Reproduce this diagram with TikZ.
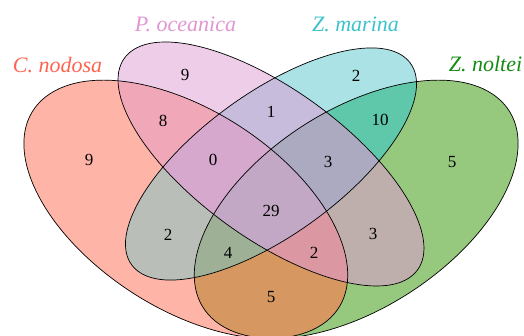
\documentclass[tikz,border=0pt]{standalone}
\usepackage{fontspec}
\setmainfont{Liberation Serif}
\definecolor{cA}{RGB}{255,180,168}
\definecolor{cB}{RGB}{237,205,232}
\definecolor{cC}{RGB}{170,226,230}
\definecolor{cD}{RGB}{150,200,126}
\definecolor{cAB}{RGB}{240,168,185}
\definecolor{cAC}{RGB}{185,190,185}
\definecolor{cAD}{RGB}{214,152,96}
\definecolor{cBC}{RGB}{200,188,220}
\definecolor{cBD}{RGB}{190,175,172}
\definecolor{cCD}{RGB}{95,200,170}
\definecolor{cABC}{RGB}{215,168,205}
\definecolor{cABD}{RGB}{220,152,162}
\definecolor{cACD}{RGB}{158,176,150}
\definecolor{cBCD}{RGB}{172,170,192}
\definecolor{cABCD}{RGB}{195,168,198}
\definecolor{labA}{RGB}{255,100,80}
\definecolor{labB}{RGB}{225,150,210}
\definecolor{labC}{RGB}{60,195,205}
\definecolor{labD}{RGB}{20,140,20}
\newcommand\eA{[shift={(0.35,0.47)},rotate=-45] (0,0) ellipse [x radius=0.35,y radius=0.2]}
\newcommand\eB{[shift={(0.5,0.57)},rotate=-45] (0,0) ellipse [x radius=0.35,y radius=0.15]}
\newcommand\eC{[shift={(0.5,0.57)},rotate=45] (0,0) ellipse [x radius=0.333,y radius=0.1427]}
\newcommand\eD{[shift={(0.65,0.47)},rotate=45] (0,0) ellipse [x radius=0.35,y radius=0.2]}
\tikzset{
  num/.style={font=\fontsize{17}{20}\selectfont, inner sep=0pt, text=black},
  setlab/.style={font=\fontsize{22}{26}\selectfont\itshape, inner sep=0pt, anchor=base},
  outline/.style={draw=black, line width=0.7pt},
}
\begin{document}
\begin{tikzpicture}[x=1pt,y=1pt]
\useasboundingbox (0,0) rectangle (524,335);
\clip (0,0) rectangle (524,335);
\fill[white] (0,0) rectangle (524,335);
\begin{scope}[x=100pt,y=100pt,shift={(-13pt,-87.2pt)},xscale=5.68,yscale=4.53]
  % single sets
  \fill[cA] \eA;
  \fill[cD] \eD;
  \fill[cB] \eB;
  \fill[cC] \eC;
  % pairs
  \begin{scope}\clip \eA; \fill[cAB] \eB; \end{scope}
  \begin{scope}\clip \eA; \fill[cAC] \eC; \end{scope}
  \begin{scope}\clip \eA; \fill[cAD] \eD; \end{scope}
  \begin{scope}\clip \eB; \fill[cBC] \eC; \end{scope}
  \begin{scope}\clip \eB; \fill[cBD] \eD; \end{scope}
  \begin{scope}\clip \eC; \fill[cCD] \eD; \end{scope}
  % triples
  \begin{scope}\clip \eA; \clip \eB; \fill[cABC] \eC; \end{scope}
  \begin{scope}\clip \eA; \clip \eB; \fill[cABD] \eD; \end{scope}
  \begin{scope}\clip \eA; \clip \eC; \fill[cACD] \eD; \end{scope}
  \begin{scope}\clip \eB; \clip \eC; \fill[cBCD] \eD; \end{scope}
  % all four
  \begin{scope}\clip \eA; \clip \eB; \clip \eC; \fill[cABCD] \eD; \end{scope}
  % outlines
  \draw[outline] \eA;
  \draw[outline] \eB;
  \draw[outline] \eC;
  \draw[outline] \eD;
\end{scope}
% set labels
\node[setlab, text=labA] (lA) at (57.5,262) {C. nodosa};
\node[setlab, text=labB] (lB) at (185.5,303) {P. oceanica};
\node[setlab, text=labC] (lC) at (355.5,303) {Z. marina};
\node[setlab, text=labD] (lD) at (485.5,263) {Z. noltei};
% counts
\node[num] (nA) at (89,175) {9};
\node[num] (nB) at (185,260) {9};
\node[num] (nC) at (356,259) {2};
\node[num] (nD) at (452,173) {5};
\node[num] (nAB) at (163,214) {8};
\node[num] (nBC) at (271,223) {1};
\node[num] (nCD) at (380,215) {10};
\node[num] (nABC) at (213,175) {0};
\node[num] (nBCD) at (328,173) {3};
\node[num] (nABCD) at (271,124) {29};
\node[num] (nAC) at (168,100) {2};
\node[num] (nBD) at (373,101) {3};
\node[num] (nACD) at (228,82) {4};
\node[num] (nABD) at (314,82) {2};
\node[num] (nAD) at (271,38) {5};
\end{tikzpicture}
\end{document}
